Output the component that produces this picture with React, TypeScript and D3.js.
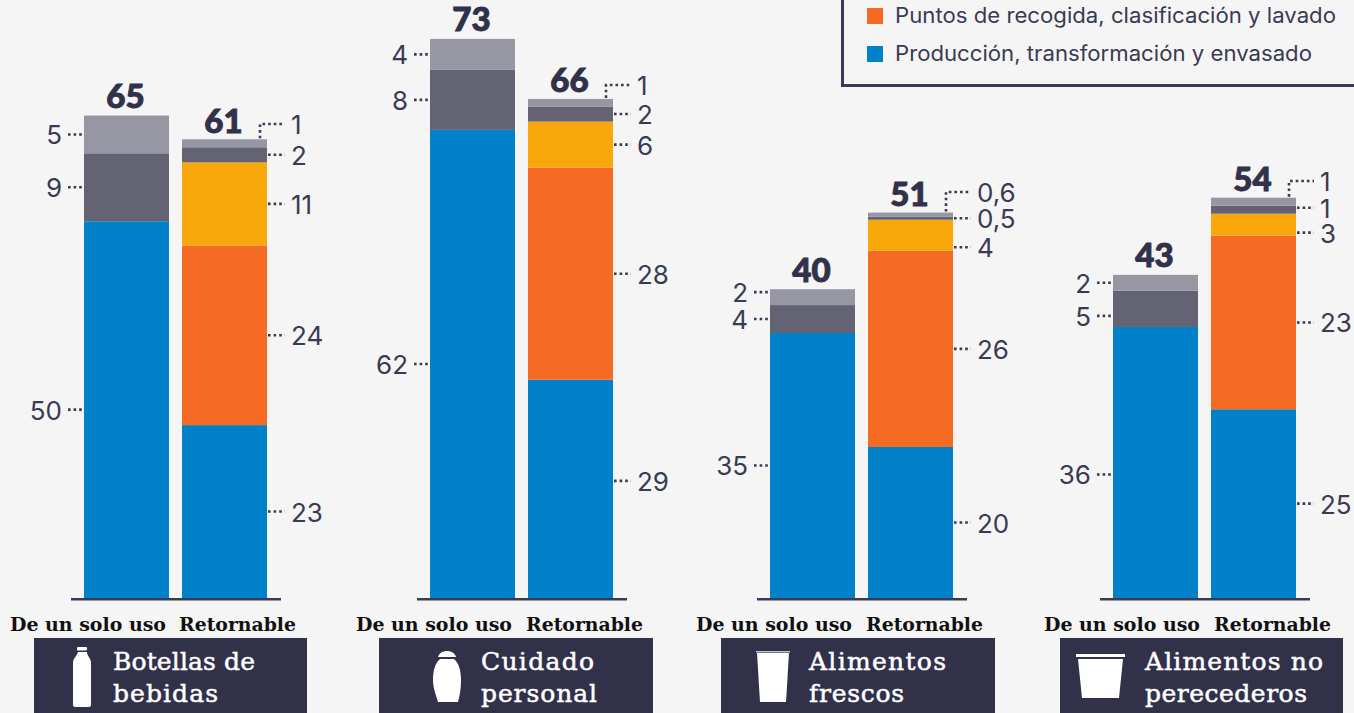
import { useMemo } from "react";
import * as d3 from "d3";

const WIDTH = 1354;
const HEIGHT = 713;
const BASELINE = 598;
const PX_PER_UNIT = 7.55;

const STAGES = ["produccion", "puntos", "transporte", "gris1", "gris2"];
const STAGE_COLORS = ["#0081c9", "#f56b23", "#f9a80b", "#636373", "#9797a3"];
const BAR_TYPES = ["De un solo uso", "Retornable"];

const CATEGORY_LINES = [
  ["Botellas de", "bebidas"],
  ["Cuidado", "personal"],
  ["Alimentos", "frescos"],
  ["Alimentos no", "perecederos"],
];

// totals printed over the bars
const TOTALS = [
  ["65", "61"],
  ["73", "66"],
  ["40", "51"],
  ["43", "54"],
];

// heights, bottom segment first (single use has no orange/yellow)
const SINGLE_USE = [
  [49.9, 0, 0, 9.0, 5.0],
  [62.0, 0, 0, 7.95, 4.1],
  [35.1, 0, 0, 3.7, 2.1],
  [35.9, 0, 0, 4.8, 2.1],
];
const RETURNABLE = [
  [22.9, 23.8, 11.0, 2.0, 1.06],
  [28.9, 28.1, 6.1, 2.0, 1.0],
  [20.0, 26.0, 4.1, 0.4, 0.55],
  [25.0, 23.0, 2.9, 1.06, 1.06],
];

// printed labels, same order
const SINGLE_LABELS = [
  ["50", "", "", "9", "5"],
  ["62", "", "", "8", "4"],
  ["35", "", "", "4", "2"],
  ["36", "", "", "5", "2"],
];
const RETURN_LABELS = [
  ["23", "24", "11", "2", "1"],
  ["29", "28", "6", "2", "1"],
  ["20", "26", "4", "0,5", "0,6"],
  ["25", "23", "3", "1", "1"],
];

// layout only
const GROUP_X = [84, 430, 770, 1113];
const PANEL_X = [34, 379, 721, 1060];
const PANEL_W = [273, 274, 274, 283];
const PANEL_TEXT_X = [113, 481, 809, 1145];
const PANEL_TEXT_LEN = [
  [142, 105],
  [113, 116],
  [137, 95],
  [178, 162],
];
const TYPE_LABEL_X = [
  [10, 179],
  [356, 526],
  [696, 866],
  [1044, 1214],
];
const SINGLE_SHIFT = [
  [0, 0, 0, 0, 0],
  [0, 0, 0, 0, 0],
  [0, 0, 0, 0, -5],
  [12, 0, 0, 7, 0],
];
const RETURN_SHIFT = [
  [0, 0, 0, 0, 0],
  [-8, 0, 0, 0, 0],
  [0, 0, 12, 0, 0],
  [0, 0, 8, -2, 0],
];
const ELBOW_Y = [124, 85, 192, 181];

const LEGEND_ROWS = [
  { label: "Puntos de recogida, clasificación y lavado", color: "#f56b23", y: 16, len: 441 },
  { label: "Producción, transformación y envasado", color: "#0081c9", y: 54, len: 417 },
];

const INK = "#3a3a52";
const PANEL = "#31314a";
const SANS = "'Inter', 'Lato', sans-serif";
const SLAB = "'DejaVu Serif', serif";

const Dots = ({ d }: { d: string }) => (
  <path d={d} fill="none" stroke={INK} strokeWidth={2.6} strokeDasharray="2.6 3" />
);

const Icon = ({ index }: { index: number }) => {
  if (index === 0) {
    return (
      <g fill="#fff">
        <rect x={77} y={647} width={10} height={3.5} rx={1} />
        <path d="M78 652h9c0 4 4 6 4 11v42c0 1-1 2-2 2H75c-1 0-2-1-2-2v-42c0-5 4-7 5-11z" />
      </g>
    );
  }
  if (index === 1) {
    return (
      <g fill="#fff">
        <path d="M438 657c1-4 5-6 9-6s8 2 9 6z" />
        <path d="M440 659h14c5 4 7 12 7 21c0 8-1 15-3 22h-20c-2-7-5-14-5-22c0-9 2-17 7-21z" />
      </g>
    );
  }
  if (index === 2) {
    return (
      <g fill="#fff">
        <rect x={756} y={651} width={34} height={1.5} opacity={0.7} />
        <path d="M757 653h32l-3 49h-26z" />
      </g>
    );
  }
  return (
    <g fill="#fff">
      <rect x={1076} y={654} width={49} height={3} />
      <path d="M1078 659h45l-4 39h-37z" />
    </g>
  );
};

const StackedBar = ({
  x,
  width,
  values,
  yScale,
}: {
  x: number;
  width: number;
  values: number[];
  yScale: d3.ScaleLinear<number, number>;
}) => {
  const tops = d3.cumsum(values);
  return (
    <g>
      {values.map((v, i) =>
        v > 0 ? (
          <rect
            key={STAGES[i]}
            x={x}
            y={yScale(tops[i])}
            width={width}
            height={yScale(tops[i] - v) - yScale(tops[i])}
            fill={STAGE_COLORS[i]}
          />
        ) : null
      )}
    </g>
  );
};

const Total = ({ x, y, text }: { x: number; y: number; text: string }) => (
  <text
    x={x}
    y={y}
    textAnchor="middle"
    fontFamily="'Lato', sans-serif"
    fontWeight={900}
    fontSize={33}
    fill={PANEL}
    stroke={PANEL}
    strokeWidth={1}
  >
    {text}
  </text>
);

export default function App() {
  const yScale = useMemo(
    () => d3.scaleLinear().domain([0, BASELINE / PX_PER_UNIT]).range([BASELINE, 0]),
    []
  );
  const xBand = useMemo(
    () => d3.scaleBand().domain(BAR_TYPES).range([0, 183]).paddingInner(13 / 98),
    []
  );
  const bw = xBand.bandwidth();

  return (
    <svg
      width={WIDTH}
      height={HEIGHT}
      style={{ position: "absolute", left: 0, top: 0, background: "#f5f5f5" }}
    >
      {/* legend, cut off by the top of the picture */}
      <path d="M842.5 0V85.5H1354" fill="none" stroke={INK} strokeWidth={3} />
      {LEGEND_ROWS.map((r) => (
        <g key={r.label}>
          <rect x={867} y={r.y - 8} width={16} height={16} fill={r.color} />
          <text
            x={895}
            y={r.y + 7}
            fontFamily={SANS}
            fontSize={21}
            fill={INK}
            textLength={r.len}
            lengthAdjust="spacingAndGlyphs"
          >
            {r.label}
          </text>
        </g>
      ))}

      {CATEGORY_LINES.map((lines, g) => {
        const x0 = GROUP_X[g];
        const xSingle = x0 + xBand(BAR_TYPES[0])!;
        const xReturn = x0 + xBand(BAR_TYPES[1])!;
        const singleTops = d3.cumsum(SINGLE_USE[g]);
        const returnTops = d3.cumsum(RETURNABLE[g]);
        const singleTop = yScale(singleTops[4]);
        const returnTop = yScale(returnTops[4]);
        const rightEdge = xReturn + bw;
        return (
          <g key={lines[0]}>
            <StackedBar x={xSingle} width={bw} values={SINGLE_USE[g]} yScale={yScale} />
            <StackedBar x={xReturn} width={bw} values={RETURNABLE[g]} yScale={yScale} />
            <rect x={x0 - 13} y={BASELINE} width={210} height={2.5} fill={INK} />

            <Total x={xSingle + bw / 2 - 1} y={singleTop - 7.5} text={TOTALS[g][0]} />
            <Total x={xReturn + bw / 2 - 1} y={returnTop - 6.5} text={TOTALS[g][1]} />

            {/* single use labels, on the left */}
            {SINGLE_LABELS[g].map((label, i) => {
              if (!label) return null;
              const v = SINGLE_USE[g][i];
              const y = (yScale(singleTops[i]) + yScale(singleTops[i] - v)) / 2 + SINGLE_SHIFT[g][i];
              return (
                <g key={i}>
                  <Dots d={`M${xSingle - 16} ${y}H${xSingle - 2}`} />
                  <text x={xSingle - 22} y={y + 10} textAnchor="end" fontFamily={SANS} fontSize={26} fill={INK}>
                    {label}
                  </text>
                </g>
              );
            })}

            {/* returnable labels, on the right; the top one is pulled out with an elbow */}
            {RETURN_LABELS[g].map((label, i) => {
              const v = RETURNABLE[g][i];
              const elbow = i === 4;
              const y = elbow
                ? ELBOW_Y[g]
                : (yScale(returnTops[i]) + yScale(returnTops[i] - v)) / 2 + RETURN_SHIFT[g][i];
              return (
                <g key={i}>
                  <Dots
                    d={
                      elbow
                        ? `M${rightEdge - 7} ${returnTop - 1}V${y}H${rightEdge + 18}`
                        : `M${rightEdge + 1} ${y}H${rightEdge + 18}`
                    }
                  />
                  <text x={rightEdge + 24} y={y + 10} fontFamily={SANS} fontSize={26} fill={INK}>
                    {label}
                  </text>
                </g>
              );
            })}

            {/* bar type labels */}
            {BAR_TYPES.map((t, i) => (
              <text
                key={t}
                x={TYPE_LABEL_X[g][i]}
                y={631}
                fontFamily={SLAB}
                fontWeight={700}
                fontSize={18}
                fill="#111"
                textLength={i === 0 ? 156 : 117}
                lengthAdjust="spacingAndGlyphs"
              >
                {t}
              </text>
            ))}

            {/* category panel */}
            <rect x={PANEL_X[g]} y={638} width={PANEL_W[g]} height={HEIGHT - 638} fill={PANEL} />
            <Icon index={g} />
            {lines.map((line, i) => (
              <text
                key={line}
                x={PANEL_TEXT_X[g]}
                y={670 + i * 32}
                fontFamily={SLAB}
                fontSize={25}
                fill="#fff"
                stroke="#fff"
                strokeWidth={0.5}
                textLength={PANEL_TEXT_LEN[g][i]}
              >
                {line}
              </text>
            ))}
          </g>
        );
      })}
    </svg>
  );
}
